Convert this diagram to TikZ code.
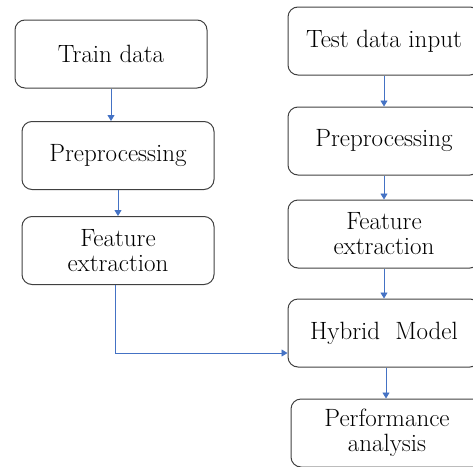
\documentclass[tikz,border=0pt]{standalone}
\usetikzlibrary{arrows.meta}
\definecolor{linkblue}{RGB}{68,114,196}
\definecolor{boxgray}{RGB}{64,64,64}
\begin{document}
\begin{tikzpicture}[
  block/.style={rectangle, draw=boxgray, line width=1pt, rounded corners=10pt, minimum width=192pt, minimum height=68pt, align=center, font=\fontsize{25}{25}\selectfont},
  link/.style={-{Triangle[length=6pt,width=7pt]}, linkblue, line width=0.9pt},
  node distance=100pt
]
\useasboundingbox (0,0) rectangle (473pt,-466pt);

% Training side
\node[block] (train) at (111pt,-54pt) {Train data};
\node[block, below of=train, node distance=101.5pt, xshift=7pt] (prepA) {Preprocessing};
\node[block, below of=prepA, node distance=95pt] (featA) {Feature\\extraction};

% Testing side
\node[block] (test) at (384pt,-41pt) {Test data input};
\node[block, below of=test] (prepB) {Preprocessing};
\node[block, below of=prepB, node distance=93pt] (featB) {Feature\\extraction};
\node[block, below of=featB, node distance=99pt] (hybrid) {Hybrid\ \ Model};
\node[block, below of=hybrid, node distance=100pt, xshift=3pt] (perf) {Performance\\analysis};

% Arrows
\draw[link] (train) -- (train |- prepA.north);
\draw[link] (prepA) -- (featA);
\draw[link] (test) -- (prepB);
\draw[link] (prepB) -- (featB);
\draw[link] (featB) -- (hybrid);
\draw[link] ([xshift=2pt]hybrid.south) -- ([xshift=2pt]hybrid.south |- perf.north);
\draw[link] ([xshift=-3pt]featA.south) |- ([yshift=-20pt]hybrid.west);
\end{tikzpicture}
\end{document}
